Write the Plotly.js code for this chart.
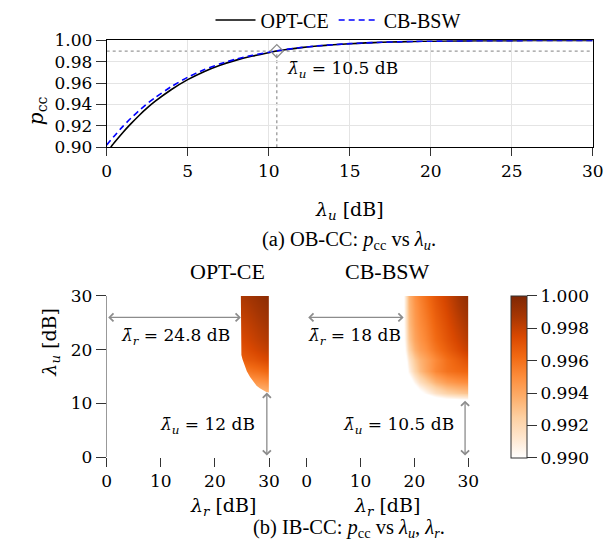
<!DOCTYPE html>
<html>
<head>
<meta charset="utf-8">
<script src="https://cdn.plot.ly/plotly-3.0.1.min.js"></script>
<style>
  html, body { margin: 0; padding: 0; background: #ffffff; }
  #chart { width: 611px; height: 555px; }
</style>
</head>
<body>
<div id="chart"></div>
<script>
// ---------- (a) OB-CC: p_cc versus lambda_u ----------
const lamU = [0, 0.25, 0.5, 1, 1.5, 2, 2.5, 3, 4, 5, 6, 7, 8, 9, 10, 10.5, 11, 12, 13, 14, 15, 16, 17, 18, 19, 20, 22, 24, 26, 28, 30];
const pOptCE = [null, 0.9000, 0.9048, 0.9138, 0.9220, 0.9297, 0.9367, 0.9430, 0.9540, 0.9632, 0.9707, 0.9767, 0.9815, 0.9853, 0.9884, 0.9900, 0.9912, 0.9932, 0.9947, 0.9959, 0.9968, 0.9976, 0.9982, 0.9986, 0.9990, 0.9992, 0.9995, 0.9997, 0.9998, 0.9999, 1.0000];
const pCbBsw = [0.9020, 0.9066, 0.9110, 0.9195, 0.9272, 0.9343, 0.9407, 0.9465, 0.9568, 0.9655, 0.9725, 0.9780, 0.9825, 0.9860, 0.9889, 0.9901, 0.9913, 0.9933, 0.9948, 0.9960, 0.9969, 0.9976, 0.9982, 0.9986, 0.9990, 0.9992, 0.9995, 0.9997, 0.9998, 0.9999, 1.0000];
const targetP = 0.99;      // required connectivity probability
const obMinLamU = 10.5;    // smallest lambda_u meeting the target (OB-CC)

// ---------- (b) IB-CC: p_cc versus (lambda_r, lambda_u) ----------
// OPT-CE
const optR = [24, 25, 26, 27, 28, 29, 30];
const optU = [11, 12, 14, 16, 18, 20, 22, 25, 28, 30];
const optP = [
  [0.9918, 0.9919, 0.9920, 0.9921, 0.9922, 0.9923, 0.9924],
  [0.9928, 0.9929, 0.9930, 0.9931, 0.9932, 0.9933, 0.9934],
  [0.9942, 0.9943, 0.9944, 0.9946, 0.9947, 0.9948, 0.9950],
  [0.9955, 0.9956, 0.9957, 0.9959, 0.9960, 0.9962, 0.9964],
  [0.9965, 0.9966, 0.9968, 0.9969, 0.9971, 0.9973, 0.9975],
  [0.9970, 0.9971, 0.9973, 0.9975, 0.9977, 0.9979, 0.9981],
  [0.9974, 0.9975, 0.9977, 0.9979, 0.9981, 0.9983, 0.9985],
  [0.9978, 0.9979, 0.9981, 0.9983, 0.9985, 0.9987, 0.9989],
  [0.9982, 0.9983, 0.9985, 0.9987, 0.9989, 0.9991, 0.9993],
  [0.9985, 0.9986, 0.9988, 0.9990, 0.9992, 0.9994, 0.9996]
];
// edge of the OPT-CE feasible region (lambda_r, lambda_u)
const optEdgeR = [24.8, 24.8, 24.9, 25.1, 25.4, 25.9, 26.5, 27.1, 27.7, 28.3, 28.9, 29.5, 30];
const optEdgeU = [30, 20.4, 19.0, 18.2, 17.3, 16.0, 14.9, 14.0, 13.3, 12.8, 12.4, 12.1, 12];
const optMinLamR = 24.8;
const optMinLamU = 12;

// CB-BSW
const cbR = [17, 18, 19, 20, 21, 22, 24, 26, 28, 30];
const cbU = [9, 10, 11, 12, 13, 14, 16, 18, 20, 22, 25, 28, 30];
const cbP = [
  [0.972, 0.9760, 0.9790, 0.9810, 0.9820, 0.9830, 0.9840, 0.9840, 0.9850, 0.9850],
  [0.975, 0.9795, 0.9825, 0.9843, 0.9853, 0.9860, 0.9870, 0.9876, 0.9879, 0.9880],
  [0.978, 0.9820, 0.9850, 0.9868, 0.9878, 0.9886, 0.9897, 0.9903, 0.9906, 0.9908],
  [0.980, 0.9838, 0.9866, 0.9884, 0.9895, 0.9903, 0.9915, 0.9923, 0.9927, 0.9930],
  [0.981, 0.9850, 0.9878, 0.9895, 0.9906, 0.9914, 0.9926, 0.9934, 0.9938, 0.9940],
  [0.982, 0.9860, 0.9888, 0.9905, 0.9916, 0.9924, 0.9936, 0.9944, 0.9948, 0.9950],
  [0.983, 0.9875, 0.9905, 0.9922, 0.9932, 0.9940, 0.9952, 0.9959, 0.9962, 0.9964],
  [0.984, 0.9885, 0.9912, 0.9927, 0.9935, 0.9941, 0.9951, 0.9960, 0.9966, 0.9972],
  [0.985, 0.9893, 0.9922, 0.9936, 0.9943, 0.9948, 0.9958, 0.9966, 0.9973, 0.9980],
  [0.985, 0.9897, 0.9928, 0.9941, 0.9947, 0.9952, 0.9962, 0.9970, 0.9977, 0.9984],
  [0.985, 0.9899, 0.9932, 0.9944, 0.9950, 0.9955, 0.9965, 0.9973, 0.9981, 0.9988],
  [0.985, 0.9900, 0.9934, 0.9946, 0.9952, 0.9958, 0.9968, 0.9976, 0.9985, 0.9992],
  [0.985, 0.9900, 0.9935, 0.9948, 0.9954, 0.9960, 0.9970, 0.9978, 0.9987, 0.9995]
];
const cbMinLamR = 18;
const cbMinLamU = 10.5;

const cbTicks = [0.990, 0.992, 0.994, 0.996, 0.998, 1.000];

// ---------- styling ----------
const W = 611, H = 555;
const px = v => v / W;           // horizontal pixel -> paper
const py = v => 1 - v / H;       // vertical pixel -> paper
const SERIF = 'DejaVu Serif';
const TIMES = 'Liberation Serif';
const numFont = { family: SERIF, size: 17, color: '#000' };
const gray = '#8c8c8c';

// white mask outside the OPT-CE feasible region
const pad = 2;
const maskX = optEdgeR.concat([30 + pad, 30 + pad, optMinLamR - pad, optMinLamR - pad]);
const maskY = optEdgeU.concat([optEdgeU[optEdgeU.length - 1], optMinLamU - pad, optMinLamU - pad, 30 + pad]);

const traces = [
  {
    type: 'heatmap', x: optR, y: optU, z: optP, zsmooth: 'best',
    coloraxis: 'coloraxis', xaxis: 'x2', yaxis: 'y2', hoverinfo: 'skip', showlegend: false
  },
  {
    type: 'scatter', mode: 'lines', x: maskX, y: maskY, fill: 'toself',
    fillcolor: '#ffffff', line: { width: 0, color: 'rgba(0,0,0,0)' },
    xaxis: 'x2', yaxis: 'y2', hoverinfo: 'skip', showlegend: false
  },
  {
    type: 'heatmap', x: cbR, y: cbU, z: cbP, zsmooth: 'best',
    coloraxis: 'coloraxis', xaxis: 'x3', yaxis: 'y3', hoverinfo: 'skip', showlegend: false
  },
  {
    type: 'scatter', mode: 'lines', name: 'OPT-CE', x: lamU, y: pOptCE,
    line: { color: '#000000', width: 1.6, shape: 'spline', smoothing: 0.6 },
    xaxis: 'x', yaxis: 'y', cliponaxis: true
  },
  {
    type: 'scatter', mode: 'lines', name: 'CB-BSW', x: lamU, y: pCbBsw,
    line: { color: '#0000ff', width: 1.6, dash: '6px,4px', shape: 'spline', smoothing: 0.6 },
    xaxis: 'x', yaxis: 'y', cliponaxis: true
  },
  {
    type: 'scatter', mode: 'markers', x: [obMinLamU], y: [targetP],
    marker: { symbol: 'diamond-open', size: 10, color: gray, line: { width: 1.2, color: gray } },
    xaxis: 'x', yaxis: 'y', showlegend: false, hoverinfo: 'skip', cliponaxis: false
  }
];

const axTop = {
  showline: true, linecolor: '#000', linewidth: 1, mirror: true,
  showgrid: true, gridcolor: '#e4e4e4', gridwidth: 1, zeroline: false,
  ticks: 'outside', tickcolor: '#333', tickfont: numFont, fixedrange: true
};
const axBottomX = {
  range: [0, 30], tickvals: [0, 10, 20, 30], showline: false, showgrid: false, zeroline: false,
  ticks: 'outside', ticklen: 9, tickcolor: '#333', tickfont: numFont, fixedrange: true
};

function dblArrow(xr, yr, x0, y0, x1, y1) {
  return {
    xref: xr, yref: yr, axref: xr, ayref: yr,
    x: x1, y: y1, ax: x0, ay: y0, text: '',
    showarrow: true, arrowhead: 4, startarrowhead: 4, arrowside: 'end+start',
    arrowsize: 1.2, startarrowsize: 1.2, arrowwidth: 1.3, arrowcolor: gray,
    standoff: 0, startstandoff: 0
  };
}
function label(xr, yr, x, y, text, anchor) {
  return {
    xref: xr, yref: yr, x: x, y: y, text: text, showarrow: false,
    xanchor: anchor || 'center', yanchor: 'middle', font: numFont
  };
}

const annotations = [
  // (a) titles and caption
  { xref: 'paper', yref: 'paper', x: px(22), y: py(93), text: '<i>p</i><sub>cc</sub>', textangle: -90,
    showarrow: false, font: { family: SERIF, size: 20, color: '#000' } },
  { xref: 'paper', yref: 'paper', x: px(349), y: py(209), text: '<i>λ</i><sub><i>u</i></sub> [dB]',
    showarrow: false, font: { family: SERIF, size: 19, color: '#000' } },
  { xref: 'paper', yref: 'paper', x: px(349), y: py(239),
    text: '(a) OB-CC: <i>p</i><sub>cc</sub> vs <i>λ</i><sub><i>u</i></sub>.',
    showarrow: false, font: { family: TIMES, size: 20.5, color: '#000' } },
  label('x', 'y', obMinLamU + 0.5, 0.9725, '<i>λ̄</i><sub><i>u</i></sub> = 10.5 dB', 'left'),

  // (b) panel titles
  { xref: 'paper', yref: 'paper', x: px(188), y: py(270), text: 'OPT-CE', showarrow: false,
    font: { family: TIMES, size: 22, color: '#000' } },
  { xref: 'paper', yref: 'paper', x: px(387), y: py(270), text: 'CB-BSW', showarrow: false,
    font: { family: TIMES, size: 22, color: '#000' } },

  // OPT-CE thresholds
  dblArrow('x2', 'y2', 0, 26, optMinLamR, 26),
  label('x2', 'y2', 12.8, 22.4, '<i>λ̄</i><sub><i>r</i></sub> = 24.8 dB'),
  dblArrow('x2', 'y2', 29.6, 0, 29.6, optMinLamU),
  label('x2', 'y2', 27.7, 5.9, '<i>λ̄</i><sub><i>u</i></sub> = 12 dB', 'right'),

  // CB-BSW thresholds
  dblArrow('x3', 'y3', 0, 26, cbMinLamR, 26),
  label('x3', 'y3', 8.9, 22.4, '<i>λ̄</i><sub><i>r</i></sub> = 18 dB'),
  dblArrow('x3', 'y3', 29.4, 0, 29.4, cbMinLamU),
  label('x3', 'y3', 27.7, 5.8, '<i>λ̄</i><sub><i>u</i></sub> = 10.5 dB', 'right'),

  // (b) axis titles and caption
  { xref: 'paper', yref: 'paper', x: px(36), y: py(378), text: '<i>λ</i><sub><i>u</i></sub> [dB]', textangle: -90,
    showarrow: false, font: { family: SERIF, size: 19, color: '#000' } },
  { xref: 'paper', yref: 'paper', x: px(188), y: py(521), text: '<i>λ</i><sub><i>r</i></sub> [dB]',
    showarrow: false, font: { family: SERIF, size: 19, color: '#000' } },
  { xref: 'paper', yref: 'paper', x: px(387), y: py(521), text: '<i>λ</i><sub><i>r</i></sub> [dB]',
    showarrow: false, font: { family: SERIF, size: 19, color: '#000' } },
  { xref: 'paper', yref: 'paper', x: px(349), y: py(543),
    text: '(b) IB-CC: <i>p</i><sub>cc</sub> vs <i>λ</i><sub><i>u</i></sub>, <i>λ</i><sub><i>r</i></sub>.',
    showarrow: false, font: { family: TIMES, size: 20.5, color: '#000' } }
];

const shapes = [
  { type: 'line', xref: 'x domain', yref: 'y', x0: 0, x1: 1, y0: targetP, y1: targetP,
    line: { color: '#999', width: 1.3, dash: 'dot' }, layer: 'below' },
  { type: 'line', xref: 'x', yref: 'y domain', x0: obMinLamU, x1: obMinLamU, y0: 0, y1: (targetP - 0.9) / 0.1,
    line: { color: '#999', width: 1.3, dash: 'dot' }, layer: 'below' }
];

const layout = {
  width: W, height: H,
  margin: { l: 0, r: 0, t: 0, b: 0, pad: 0 },
  paper_bgcolor: '#ffffff', plot_bgcolor: 'rgba(0,0,0,0)',
  font: { family: SERIF, size: 17, color: '#000' },
  showlegend: true,
  legend: {
    orientation: 'h', x: px(338), xanchor: 'center', y: py(18), yanchor: 'middle',
    font: { family: TIMES, size: 20, color: '#000' }, bgcolor: 'rgba(0,0,0,0)',
    itemwidth: 40, tracegroupgap: 0
  },
  xaxis: Object.assign({}, axTop, {
    domain: [px(106.7), px(592.7)], anchor: 'y', range: [0, 30], dtick: 5, tick0: 0, ticklen: 8
  }),
  yaxis: Object.assign({}, axTop, {
    domain: [py(145.7), py(38.5)], anchor: 'x', range: [0.9, 1.0], dtick: 0.02, tick0: 0.9,
    tickformat: '.2f', ticklen: 10
  }),
  xaxis2: Object.assign({}, axBottomX, { domain: [px(106.7), px(269)], anchor: 'y2' }),
  yaxis2: {
    domain: [py(456.7), py(295)], anchor: 'x2', range: [0, 30], tickvals: [0, 10, 20, 30],
    showline: true, linecolor: '#999', linewidth: 1, showgrid: false, zeroline: false,
    ticks: 'outside', ticklen: 10, tickcolor: '#333', tickfont: numFont, fixedrange: true
  },
  xaxis3: Object.assign({}, axBottomX, { domain: [px(306.7), px(468.3)], anchor: 'y3' }),
  yaxis3: {
    domain: [py(456.7), py(295)], anchor: 'x3', range: [0, 30],
    showline: false, showgrid: false, zeroline: false, showticklabels: false, ticks: '', fixedrange: true
  },
  coloraxis: {
    cmin: 0.99, cmax: 1.0,
    colorscale: [
      [0, '#ffffff'], [0.125, '#fee6ce'], [0.25, '#fdd0a2'], [0.375, '#fdae6b'],
      [0.5, '#fd8d3c'], [0.625, '#f16913'], [0.75, '#d94801'], [0.875, '#a63603'], [1, '#7f2704']
    ],
    colorbar: {
      thicknessmode: 'pixels', thickness: 16, lenmode: 'pixels', len: 161.7,
      x: px(511), xanchor: 'left', xpad: 0, y: py(295), yanchor: 'top', ypad: 0,
      outlinewidth: 1, outlinecolor: '#333',
      tickvals: cbTicks, ticktext: cbTicks.map(v => v.toFixed(3)),
      ticks: 'outside', ticklen: 10, tickcolor: '#333', tickfont: numFont
    }
  },
  shapes: shapes,
  annotations: annotations
};

Plotly.newPlot('chart', traces, layout, { staticPlot: true, displayModeBar: false });
</script>
</body>
</html>
